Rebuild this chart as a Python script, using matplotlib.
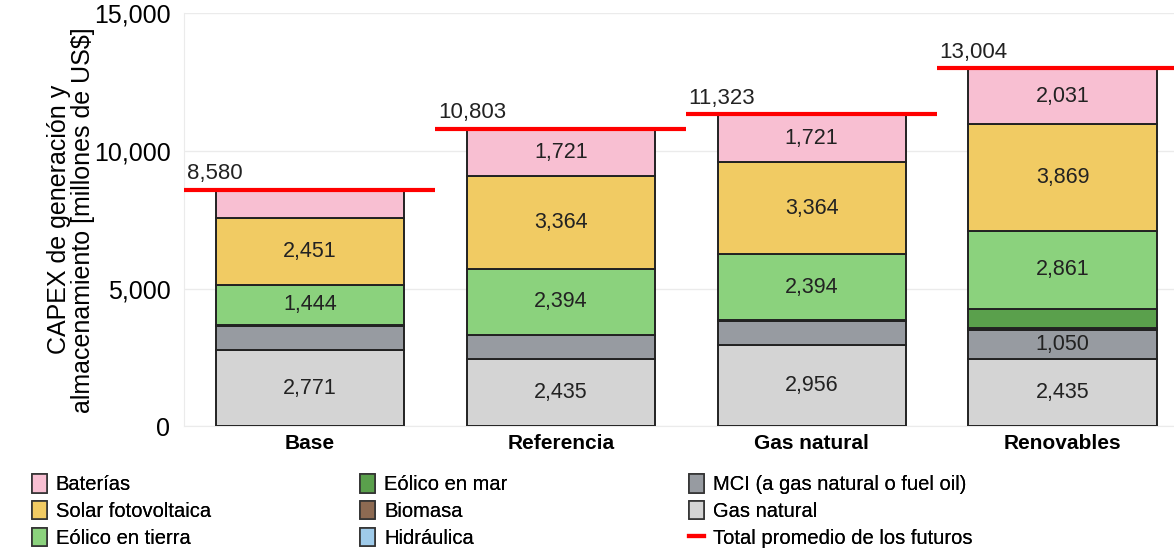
import numpy as np
import matplotlib.pyplot as plt
from matplotlib.patches import Patch
from matplotlib.lines import Line2D

plt.rcParams['font.family'] = ['Liberation Sans', 'DejaVu Sans']

# datos (millones de US$)
futuros = ['Base', 'Referencia', 'Gas natural', 'Renovables']
gas_natural = [2771, 2435, 2956, 2435]
mci = [880, 860, 860, 1050]
hidraulica = [30, 29, 28, 38]
biomasa = [0, 0, 0, 50]
eolico_mar = [0, 0, 0, 670]
eolico_tierra = [1444, 2394, 2394, 2861]
solar = [2451, 3364, 3364, 3869]
baterias = [1004, 1721, 1721, 2031]
totales = [8580, 10803, 11323, 13004]

# que segmentos llevan etiqueta
mostrar = {
    'Gas natural': [True, True, True, True],
    'MCI (a gas natural o fuel oil)': [False, False, False, True],
    'Eólico en tierra': [True, True, True, True],
    'Solar fotovoltaica': [True, True, True, True],
    'Baterías': [False, True, True, True],
}

series = [
    ('Gas natural', gas_natural, '#d4d4d4'),
    ('MCI (a gas natural o fuel oil)', mci, '#979ba1'),
    ('Hidráulica', hidraulica, '#9fcbea'),
    ('Biomasa', biomasa, '#8d6a52'),
    ('Eólico en mar', eolico_mar, '#5aa04c'),
    ('Eólico en tierra', eolico_tierra, '#8bd27d'),
    ('Solar fotovoltaica', solar, '#f1cb63'),
    ('Baterías', baterias, '#f8bfd2'),
]

fig = plt.figure(figsize=(11.74, 5.52), dpi=100)
ax = fig.add_axes([0.157, 0.228, 0.843, 0.748])

x = np.arange(len(futuros))
ancho = 0.75
bottom = np.zeros(len(futuros))
handles = {}
for nombre, vals, color in series:
    vals = np.array(vals, dtype=float)
    bars = ax.bar(x, vals, ancho, bottom=bottom, color=color,
                  edgecolor='#222222', linewidth=1.4, zorder=3)
    handles[nombre] = Patch(facecolor=color, edgecolor='#333333', linewidth=1.2)
    if nombre in mostrar:
        labels = [f'{v:,.0f}' if m else '' for v, m in zip(vals, mostrar[nombre])]
        ax.bar_label(bars, labels=labels, label_type='center', fontsize=15.5,
                     color='#222222', zorder=4)
    bottom += vals

# total promedio de los futuros
for i, t in enumerate(totales):
    ax.hlines(t, i - 0.5, i + 0.5, color='#ff0000', linewidth=3, zorder=5)
    ax.text(i - 0.49, t + 200, f'{t:,.0f}', fontsize=16, ha='left', va='bottom',
            color='#222222', zorder=6)

ax.set_ylim(0, 15000)
ax.set_xlim(-0.5, 3.444)
ax.set_yticks([0, 5000, 10000, 15000])
ax.set_yticklabels(['0', '5,000', '10,000', '15,000'], fontsize=18)
ax.set_xticks(x)
ax.set_xticklabels(futuros, fontsize=15, fontweight='bold')
ax.tick_params(axis='both', length=0, pad=6)
ax.tick_params(axis='y', pad=10)
ax.grid(axis='y', color='#ebebeb', linewidth=1, zorder=0)
for s in ['top', 'right']:
    ax.spines[s].set_visible(False)
ax.spines['left'].set_color('#ebebeb')
ax.spines['bottom'].set_color('#ebebeb')
ax.set_ylabel('CAPEX de generación y\nalmacenamiento [millones de US$]', fontsize=18,
              labelpad=-1, linespacing=1.0)

# leyenda en tres columnas
columnas = [
    ['Baterías', 'Solar fotovoltaica', 'Eólico en tierra'],
    ['Eólico en mar', 'Biomasa', 'Hidráulica'],
    ['MCI (a gas natural o fuel oil)', 'Gas natural', None],
]
x_cols = [0.02, 0.30, 0.58]
for xc, col in zip(x_cols, columnas):
    hs, ls = [], []
    for nombre in col:
        if nombre is None:
            hs.append(Line2D([], [], color='#ff0000', linewidth=3))
            ls.append('Total promedio de los futuros')
        else:
            hs.append(handles[nombre])
            ls.append(nombre)
    leg = fig.legend(hs, ls, loc='upper left', bbox_to_anchor=(xc, 0.155),
                     frameon=False, fontsize=14.5, handlelength=0.75, handleheight=1.0,
                     handletextpad=0.45, labelspacing=0.33, borderaxespad=0)
    fig.add_artist(leg)

fig.savefig('out.png', dpi=100)
